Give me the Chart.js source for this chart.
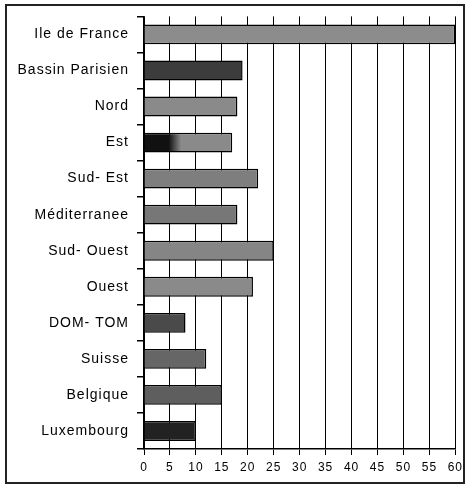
<!DOCTYPE html>
<html>
<head>
<meta charset="utf-8">
<script src="https://cdn.jsdelivr.net/npm/chart.js@4/dist/chart.umd.min.js"></script>
<style>
  body { margin: 0; background: #fff; }
  #wrap { position: relative; width: 467px; height: 495px; }
  #frame { position: absolute; left: 5px; top: 4px; width: 456px; height: 476px; border: 2px solid #222; pointer-events: none; }
  canvas { position: absolute; left: 0; top: 0; }
</style>
</head>
<body>
<div id="wrap">
  <canvas id="myChart" width="467" height="495"></canvas>
  <div id="frame"></div>
</div>
<script>
const regions = ['Ile de France', 'Bassin Parisien', 'Nord', 'Est', 'Sud- Est', 'Méditerranee',
  'Sud- Ouest', 'Ouest', 'DOM- TOM', 'Suisse', 'Belgique', 'Luxembourg'];
const values = [60, 19, 18, 17, 22, 18, 25, 21, 8, 12, 15, 10];
const xTicks = [0, 5, 10, 15, 20, 25, 30, 35, 40, 45, 50, 55, 60];
const barColors = ['#8c8c8c', '#3c3c3c', '#8a8a8a', '#888888', '#7e7e7e', '#777777',
  '#858585', '#8a8a8a', '#4a4a4a', '#666666', '#5e5e5e', '#222222'];

// texte un peu espacé, comme sur l'original
const spacing = {
  id: 'spacing',
  beforeDraw: function (chart) { chart.ctx.letterSpacing = '1px'; },
  afterDraw: function (chart) { chart.ctx.letterSpacing = '0px'; }
};

const ctx = document.getElementById('myChart').getContext('2d');
const chart = new Chart(ctx, {
  type: 'bar',
  data: {
    labels: regions,
    datasets: [{
      data: values,
      backgroundColor: function (c) {
        // Est : noir à gauche puis gris
        if (c.dataIndex === 3 && c.chart.chartArea) {
          const x0 = c.chart.scales.x.getPixelForValue(0);
          const x1 = c.chart.scales.x.getPixelForValue(values[3]);
          const g = c.chart.ctx.createLinearGradient(x0, 0, x1, 0);
          g.addColorStop(0, '#111');
          g.addColorStop(0.28, '#111');
          g.addColorStop(0.42, '#8a8a8a');
          g.addColorStop(1, '#8a8a8a');
          return g;
        }
        return barColors[c.dataIndex];
      },
      borderColor: '#000',
      borderWidth: 1.5,
      barPercentage: 0.55,
      categoryPercentage: 1
    }]
  },
  options: {
    indexAxis: 'y',
    responsive: false,
    animation: false,
    layout: { padding: { left: 0, right: 9, top: 15, bottom: 0 } },
    plugins: { legend: { display: false }, tooltip: { enabled: false } },
    scales: {
      x: {
        min: 0,
        max: 60,
        afterBuildTicks: function (s) { s.ticks = xTicks.map(v => ({ value: v })); },
        afterFit: function (s) { s.height = 46; },
        grid: { color: '#000', lineWidth: 1, tickLength: 6, drawTicks: true },
        border: { color: '#000', width: 1.5 },
        ticks: { color: '#000', padding: 5, font: { family: 'Liberation Sans', size: 12 } }
      },
      y: {
        afterFit: function (s) { s.width = 144; },
        grid: { drawOnChartArea: false, drawTicks: true, tickLength: 7, color: '#000', lineWidth: 1.5 },
        border: { color: '#000', width: 1.5 },
        ticks: { color: '#000', padding: 8, font: { family: 'Liberation Sans', size: 14 } }
      }
    }
  },
  plugins: [spacing]
});
</script>
</body>
</html>
